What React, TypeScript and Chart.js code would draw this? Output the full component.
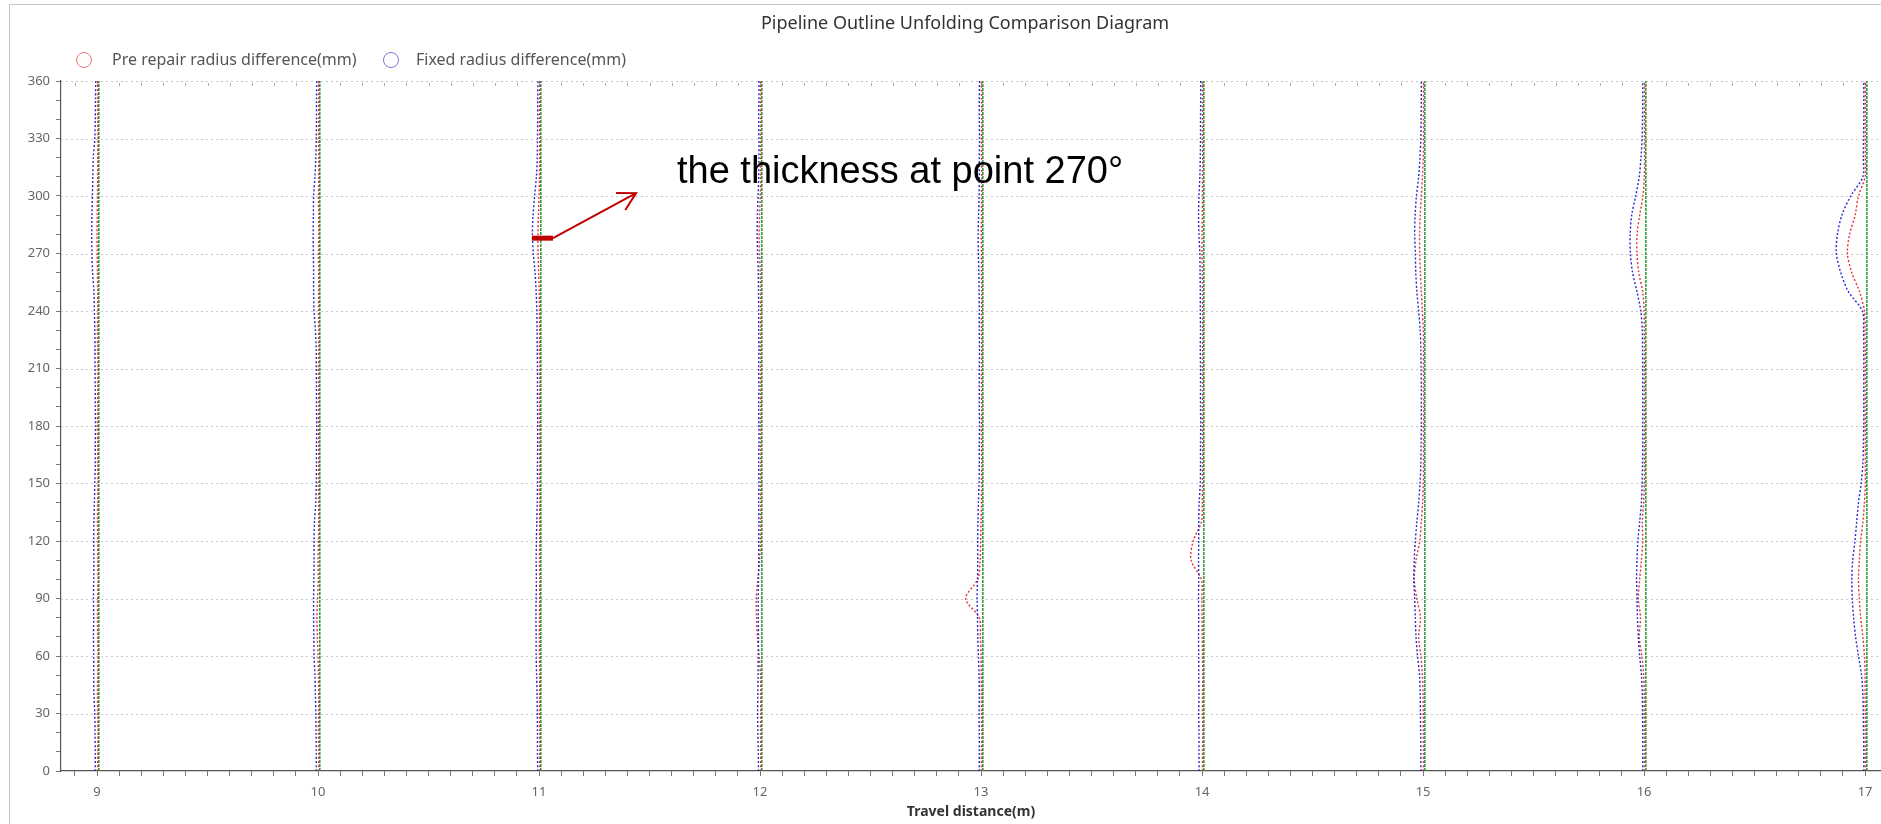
import { useEffect, useRef } from 'react';
import { Chart, registerables } from 'chart.js';

Chart.register(...registerables);

// ---------------- data ----------------
const TITLE = 'Pipeline Outline Unfolding Comparison Diagram';
const X_TITLE = 'Travel distance(m)';
const PRE_LABEL = 'Pre repair radius difference(mm)';
const FIX_LABEL = 'Fixed radius difference(mm)';
const NOTE_TEXT = 'the thickness at point 270°';

const DISTANCES = [9, 10, 11, 12, 13, 14, 15, 16, 17];
const ANGLES = [
  0, 10, 20, 30, 40, 50, 60, 70, 80, 90, 100, 110, 120, 130, 140, 150, 160, 170, 180,
  190, 200, 210, 220, 230, 240, 250, 260, 270, 280, 290, 300, 310, 320, 330, 340, 350, 360,
];
const BASELINE_ANGLES = [0, 360];
const BASELINE_MM = 0.8;
const MM_TO_AXIS = 0.01;

// radius difference (mm) per angle, one array per travel distance
const PRE_9 = [0.3, 0.3, 0.4, 0.3, 0.2, 0.3, 0.4, 0.3, 0.2, 0.3, 0.4, 0.3, 0.3, 0.2, 0.3, 0.4, 0.3, 0.3, 0.2, 0.3, 0.3, 0.4, 0.3, 0.2, 0.3, 0.3, 0.2, 0.1, 0.0, 0.1, 0.2, 0.3, 0.3, 0.4, 0.3, 0.3, 0.3];
const FIX_9 = [-0.8, -0.8, -0.9, -1.0, -1.4, -1.5, -1.5, -1.6, -1.5, -1.6, -1.5, -1.4, -1.5, -1.4, -1.2, -1.0, -0.8, -0.8, -0.7, -0.8, -0.8, -0.9, -0.9, -1.0, -1.2, -1.4, -2.0, -2.3, -2.4, -2.3, -2.1, -1.9, -1.7, -1.0, -0.8, -0.7, -0.6];
const PRE_10 = [0.3, 0.3, 0.2, 0.3, 0.3, 0.2, 0.0, -0.3, -0.5, -0.2, 0.1, 0.0, 0.2, 0.3, 0.3, 0.2, 0.3, 0.3, 0.2, 0.3, 0.3, 0.2, 0.3, 0.3, 0.2, 0.3, 0.3, 0.2, 0.3, 0.3, 0.2, 0.3, 0.3, 0.2, 0.3, 0.3, 0.3];
const FIX_10 = [-0.8, -0.8, -0.9, -1.0, -1.2, -1.4, -1.8, -1.9, -2.0, -2.0, -1.9, -1.8, -1.8, -1.6, -1.0, -0.8, -0.7, -0.7, -0.6, -0.7, -0.7, -0.8, -0.8, -1.2, -1.8, -2.0, -2.0, -2.1, -2.2, -2.1, -2.0, -1.4, -1.0, -0.8, -0.7, -0.7, -0.6];
const PRE_11 = [0.3, 0.3, 0.3, 0.2, 0.3, 0.3, 0.2, 0.1, 0.2, 0.3, 0.3, 0.2, 0.3, 0.3, 0.3, 0.2, 0.3, 0.3, 0.3, 0.2, 0.3, 0.3, 0.2, 0.3, 0.2, 0.1, -0.2, -0.4, -0.5, -0.3, 0.0, 0.2, 0.3, 0.3, 0.2, 0.3, 0.3];
const FIX_11 = [-0.6, -0.7, -0.7, -0.8, -0.9, -1.1, -1.3, -1.3, -1.4, -1.3, -1.2, -1.3, -1.2, -1.0, -0.8, -0.7, -0.7, -0.6, -0.6, -0.7, -0.7, -0.7, -0.8, -0.9, -1.0, -1.3, -1.8, -2.6, -3.0, -2.7, -2.0, -1.2, -0.8, -0.7, -0.6, -0.6, -0.5];
const PRE_12 = [0.3, 0.3, 0.2, 0.3, 0.3, 0.2, -0.4, -1.2, -1.6, -1.7, -1.0, -0.2, 0.2, 0.3, 0.3, 0.2, 0.3, 0.3, 0.2, 0.3, 0.3, 0.3, 0.2, 0.3, 0.3, 0.2, 0.1, -0.2, -0.4, -0.2, 0.1, 0.3, 0.3, 0.2, 0.3, 0.3, 0.3];
const FIX_12 = [-0.7, -0.8, -1.0, -1.1, -1.0, -0.9, -0.8, -0.7, -0.8, -0.8, -0.7, -0.6, -0.6, -0.5, -0.6, -0.5, -0.6, -0.5, -0.5, -0.6, -0.5, -0.6, -0.5, -0.6, -0.6, -0.7, -0.8, -1.1, -1.3, -1.2, -0.9, -0.6, -0.5, -0.5, -0.6, -0.5, -0.5];
const PRE_13 = [0.2, 0.2, 0.3, 0.2, 0.2, 0.1, 0.0, -0.3, -0.8, -7.0, -1.5, -0.4, -0.2, 0.0, 0.2, 0.2, 0.3, 0.2, 0.2, 0.3, 0.2, 0.2, 0.3, 0.2, 0.2, 0.3, 0.2, 0.2, 0.1, 0.2, 0.2, 0.3, 0.2, 0.2, 0.3, 0.2, 0.2];
const FIX_13 = [-0.8, -0.8, -0.8, -0.9, -0.8, -0.9, -1.2, -1.5, -1.6, -1.8, -1.6, -1.5, -1.5, -1.4, -1.2, -0.9, -0.8, -0.8, -0.7, -0.8, -0.8, -0.8, -0.7, -0.8, -0.8, -0.9, -1.0, -1.2, -1.3, -1.1, -0.9, -0.8, -0.8, -0.7, -0.8, -0.8, -0.7];
const PRE_14 = [0.2, 0.2, 0.3, 0.2, 0.2, 0.3, 0.2, 0.1, 0.0, -0.1, -0.3, -5.0, -4.0, -0.3, 0.1, 0.2, 0.2, 0.3, 0.2, 0.2, 0.3, 0.2, 0.2, 0.3, 0.2, 0.2, 0.1, 0.0, 0.0, 0.1, 0.2, 0.2, 0.3, 0.2, 0.2, 0.3, 0.2];
const FIX_14 = [-1.3, -1.4, -1.4, -1.5, -1.4, -1.5, -1.5, -1.6, -1.5, -1.6, -1.5, -1.6, -1.5, -1.5, -1.3, -0.8, -0.7, -0.7, -0.6, -0.7, -0.7, -0.7, -0.8, -0.7, -0.8, -0.8, -0.9, -1.0, -1.4, -1.6, -1.4, -1.0, -0.8, -0.7, -0.7, -0.6, -0.6];
const PRE_15 = [0.2, 0.2, 0.1, 0.1, 0.0, -0.3, -1.0, -2.0, -1.2, -2.8, -4.0, -3.2, -1.5, -0.8, -0.2, 0.1, 0.2, 0.2, 0.2, 0.3, 0.2, 0.2, 0.2, 0.1, -0.3, -0.8, -1.2, -1.5, -1.6, -1.3, -0.8, -0.3, 0.1, 0.2, 0.2, 0.2, 0.2];
const FIX_15 = [-1.0, -1.0, -1.1, -1.2, -1.3, -1.6, -2.5, -3.2, -3.5, -3.8, -4.2, -4.0, -3.5, -2.8, -2.0, -1.4, -1.0, -0.9, -0.8, -0.8, -0.8, -0.9, -1.0, -1.3, -2.0, -2.8, -3.3, -3.5, -3.8, -3.6, -3.0, -2.0, -1.4, -1.0, -0.9, -0.8, -0.8];
const PRE_16 = [0.2, 0.2, 0.2, 0.1, 0.1, -0.2, -1.0, -2.2, -1.6, -2.6, -2.0, -1.2, -0.6, -0.8, -0.2, 0.1, 0.2, 0.2, 0.2, 0.2, 0.2, 0.2, 0.2, 0.1, 0.0, -0.6, -2.4, -3.2, -3.2, -2.0, -0.5, 0.1, 0.2, 0.2, 0.2, 0.2, 0.2];
const FIX_16 = [-0.6, -0.6, -0.6, -0.7, -0.8, -1.2, -2.0, -2.6, -3.0, -3.2, -3.4, -3.2, -2.8, -2.0, -1.2, -0.9, -0.7, -0.6, -0.6, -0.6, -0.6, -0.6, -0.7, -0.8, -1.5, -3.2, -5.2, -6.2, -6.3, -5.6, -3.8, -2.2, -1.4, -0.9, -0.7, -0.6, -0.6];
const PRE_17 = [0.1, 0.1, 0.1, 0.1, 0.0, 0.0, -0.3, -1.0, -2.0, -2.6, -3.0, -2.6, -2.0, -1.0, -0.3, 0.1, 0.1, 0.1, 0.1, 0.1, 0.1, 0.1, 0.1, 0.0, -0.3, -2.5, -6.0, -8.0, -7.0, -4.5, -3.0, 0.0, 0.1, 0.1, 0.1, 0.1, 0.1];
const FIX_17 = [-0.6, -0.6, -0.7, -0.8, -1.0, -1.6, -3.0, -4.3, -5.2, -5.8, -6.0, -5.6, -4.6, -3.8, -3.0, -1.8, -1.0, -0.8, -0.6, -0.6, -0.6, -0.6, -0.6, -0.7, -1.2, -7.5, -11.0, -13.0, -12.5, -10.5, -6.5, -1.0, -0.8, -0.7, -0.6, -0.6, -0.6];

const PRE_SERIES = [PRE_9, PRE_10, PRE_11, PRE_12, PRE_13, PRE_14, PRE_15, PRE_16, PRE_17];
const FIX_SERIES = [FIX_9, FIX_10, FIX_11, FIX_12, FIX_13, FIX_14, FIX_15, FIX_16, FIX_17];

const X_TICK_STEP = 0.1;
const Y_TICK_STEP = 10;
const Y_LABEL_STEP = 30;

// annotation anchor points (data coordinates)
const NOTE_BAR = { x0: 10.968, x1: 11.063, y: 278 };
const NOTE_TIP = { x: 11.439, y: 301.5 };
const NOTE_TEXT_AT = { x: 11.624, y: 306.7 };

// ---------------- styles ----------------
const RED = 'rgba(228,40,52,0.95)';
const BLUE = 'rgba(30,30,210,0.95)';
const GREEN = 'rgba(40,150,50,0.95)';
const FONT = "'Noto Sans', sans-serif";

const isWhole = (v: number) => Math.abs(v - Math.round(v)) < 1e-6;

export default function App() {
  const ref = useRef<HTMLCanvasElement>(null);

  useEffect(() => {
    const canvas = ref.current;
    if (!canvas) return;

    const datasets: any[] = [];
    DISTANCES.forEach((d, i) => {
      datasets.push({
        label: 'baseline',
        data: BASELINE_ANGLES.map((a) => ({ x: d + BASELINE_MM * MM_TO_AXIS, y: a })),
        showLine: true,
        borderColor: GREEN,
        borderWidth: 1.6,
        borderDash: [3, 1],
        pointRadius: 0,
        order: 3,
      });
      datasets.push({
        label: PRE_LABEL,
        data: ANGLES.map((a, j) => ({ x: d + PRE_SERIES[i][j] * MM_TO_AXIS, y: a })),
        showLine: true,
        borderColor: RED,
        borderWidth: 1.4,
        borderDash: [2, 2],
        pointRadius: 0,
        tension: 0.3,
        order: 2,
      });
      datasets.push({
        label: FIX_LABEL,
        data: ANGLES.map((a, j) => ({ x: d + FIX_SERIES[i][j] * MM_TO_AXIS, y: a })),
        showLine: true,
        borderColor: BLUE,
        borderWidth: 1.4,
        borderDash: [2, 2],
        pointRadius: 0,
        tension: 0.3,
        order: 1,
      });
    });

    const framePlugin = {
      id: 'frame',
      beforeDraw(chart: any) {
        const { ctx, width, height } = chart;
        ctx.save();
        ctx.fillStyle = '#ffffff';
        ctx.fillRect(0, 0, width, height);
        ctx.strokeStyle = '#c4c4c4';
        ctx.lineWidth = 1;
        ctx.strokeRect(9.5, 4.5, width + 20, height + 20);
        // title
        ctx.font = `18px ${FONT}`;
        ctx.fillStyle = '#333333';
        ctx.textAlign = 'center';
        ctx.textBaseline = 'middle';
        ctx.fillText(TITLE, 965, 24);
        ctx.restore();
      },
      beforeDatasetsDraw(chart: any) {
        const { ctx, chartArea } = chart;
        const ys = chart.scales.y;
        const xs = chart.scales.x;
        ctx.save();
        ctx.strokeStyle = '#c8c8c8';
        ctx.lineWidth = 1;
        ctx.setLineDash([2, 3]);
        for (let v = Y_LABEL_STEP; v <= 360; v += Y_LABEL_STEP) {
          const y = Math.round(ys.getPixelForValue(v)) + 0.5;
          ctx.beginPath();
          ctx.moveTo(chartArea.left, y);
          ctx.lineTo(chartArea.right, y);
          ctx.stroke();
        }
        // small marks along the top edge
        ctx.setLineDash([]);
        ctx.strokeStyle = '#b0b0b0';
        xs.ticks.forEach((t: any) => {
          const x = Math.round(xs.getPixelForValue(t.value)) + 0.5;
          ctx.beginPath();
          ctx.moveTo(x, chartArea.top + 2);
          ctx.lineTo(x, chartArea.top + 5);
          ctx.stroke();
        });
        ctx.restore();
      },
      afterDraw(chart: any) {
        const { ctx } = chart;
        const xs = chart.scales.x;
        const ys = chart.scales.y;
        ctx.save();
        // legend
        const legendY = 60;
        const items = [
          { label: PRE_LABEL, color: 'rgba(235,120,120,1)', cx: 84, tx: 112 },
          { label: FIX_LABEL, color: 'rgba(120,120,215,1)', cx: 391, tx: 416 },
        ];
        ctx.font = `16px ${FONT}`;
        ctx.textBaseline = 'middle';
        ctx.textAlign = 'left';
        items.forEach((it) => {
          ctx.beginPath();
          ctx.strokeStyle = it.color;
          ctx.lineWidth = 1;
          ctx.arc(it.cx, legendY, 7.5, 0, Math.PI * 2);
          ctx.stroke();
          ctx.fillStyle = '#555555';
          ctx.fillText(it.label, it.tx, legendY);
        });

        // annotation
        const bx0 = xs.getPixelForValue(NOTE_BAR.x0);
        const bx1 = xs.getPixelForValue(NOTE_BAR.x1);
        const by = ys.getPixelForValue(NOTE_BAR.y);
        const tx = xs.getPixelForValue(NOTE_TIP.x);
        const ty = ys.getPixelForValue(NOTE_TIP.y);
        ctx.strokeStyle = '#c00000';
        ctx.lineCap = 'butt';
        ctx.lineWidth = 5;
        ctx.beginPath();
        ctx.moveTo(bx0, by);
        ctx.lineTo(bx1, by);
        ctx.stroke();
        ctx.lineWidth = 2;
        ctx.beginPath();
        ctx.moveTo(bx1, by);
        ctx.lineTo(tx, ty);
        ctx.stroke();
        const ang = Math.atan2(ty - by, tx - bx1);
        const len = 20;
        const spread = (29 * Math.PI) / 180;
        ctx.beginPath();
        ctx.moveTo(tx - len * Math.cos(ang - spread), ty - len * Math.sin(ang - spread));
        ctx.lineTo(tx, ty);
        ctx.lineTo(tx - len * Math.cos(ang + spread), ty - len * Math.sin(ang + spread));
        ctx.stroke();

        ctx.font = "38px 'Liberation Sans', Arial, sans-serif";
        ctx.fillStyle = '#000000';
        ctx.textBaseline = 'alphabetic';
        ctx.fillText(NOTE_TEXT, xs.getPixelForValue(NOTE_TEXT_AT.x), ys.getPixelForValue(NOTE_TEXT_AT.y));
        ctx.restore();
      },
    };

    const chart = new Chart(canvas, {
      type: 'scatter',
      data: { datasets },
      options: {
        animation: false,
        responsive: false,
        devicePixelRatio: 1,
        layout: { padding: { left: 0, right: 0, top: 81, bottom: 0 } },
        plugins: {
          legend: { display: false },
          tooltip: { enabled: false },
          title: { display: false },
        },
        scales: {
          x: {
            type: 'linear',
            min: 8.837,
            max: 17.072,
            afterFit: (s: any) => {
              s.height = 53;
            },
            ticks: {
              stepSize: X_TICK_STEP,
              autoSkip: false,
              includeBounds: false,
              maxRotation: 0,
              minRotation: 0,
              padding: 8,
              color: '#666666',
              font: { family: FONT, size: 13 },
              callback: (v: any) => (isWhole(Number(v)) ? String(Math.round(Number(v))) : ''),
            },
            grid: {
              drawOnChartArea: false,
              drawTicks: true,
              tickLength: 5,
              tickColor: '#777777',
              color: '#777777',
            },
            border: { color: '#555555', width: 1.2 },
            title: {
              display: true,
              text: X_TITLE,
              color: '#333333',
              font: { family: FONT, size: 14, weight: 'bold' },
              padding: { top: 2, bottom: 4 },
            },
          },
          y: {
            type: 'linear',
            min: 0,
            max: 360,
            afterFit: (s: any) => {
              s.width = 61;
            },
            ticks: {
              stepSize: Y_TICK_STEP,
              autoSkip: false,
              includeBounds: false,
              padding: 6,
              color: '#666666',
              font: { family: FONT, size: 13 },
              callback: (v: any) => (Number(v) % Y_LABEL_STEP === 0 ? String(v) : ''),
            },
            grid: {
              drawOnChartArea: false,
              drawTicks: true,
              tickLength: 5,
              tickColor: '#777777',
              color: '#777777',
            },
            border: { color: '#555555', width: 1.2 },
          },
        },
      },
      plugins: [framePlugin],
    } as any);

    return () => chart.destroy();
  }, []);

  return (
    <div style={{ position: 'absolute', left: 0, top: 0, width: 1881, height: 824, background: '#fff' }}>
      <canvas ref={ref} width={1881} height={824} style={{ display: 'block', width: 1881, height: 824 }} />
    </div>
  );
}
